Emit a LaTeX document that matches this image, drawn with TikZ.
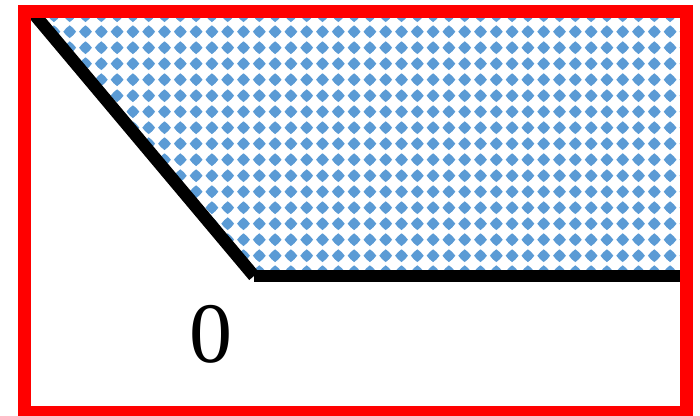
\documentclass[tikz,border=0pt]{standalone}
\usepackage{fontspec}
\setmainfont{Liberation Serif}
\definecolor{patblue}{HTML}{5B9BD5}
\definecolor{framered}{HTML}{FF0000}
\tikzset{
  dotdiamond/.style={fill=patblue},
  boundary/.style={line width=12.5pt, line cap=butt, black},
  frame/.style={draw=framered, line width=13pt, line join=miter},
  zerolabel/.style={font=\fontsize{86}{86}\selectfont, inner sep=0pt}
}
\begin{document}
\begin{tikzpicture}[x=1pt,y=-1pt]
\useasboundingbox (0,0) rectangle (700,415);
\coordinate (top) at (34,14);
\coordinate (corner) at (254,276);
\coordinate (right) at (686,276);
\begin{scope}
  \clip (37,18) -- (680,18) -- (680,276) -- (254,276) -- cycle;
  \foreach \i in {0,...,42}{
    \foreach \j in {0,...,17}{
      \fill[dotdiamond] ({22.3+15.8*\i},{15.7+16*\j})
        +(-6.4,0) -- +(-3.5,-3.5) -- +(0,-6.4) -- +(3.5,-3.5)
        -- +(6.4,0) -- +(3.5,3.5) -- +(0,6.4) -- +(-3.5,3.5) -- cycle;
    }
  }
\end{scope}
\draw[boundary] (top) -- (corner);
\draw[boundary] (corner) -- (right);
\node[zerolabel] (zero) at (211,334) {0};
\draw[frame] (24.5,11) rectangle (686,412);
\end{tikzpicture}
\end{document}
